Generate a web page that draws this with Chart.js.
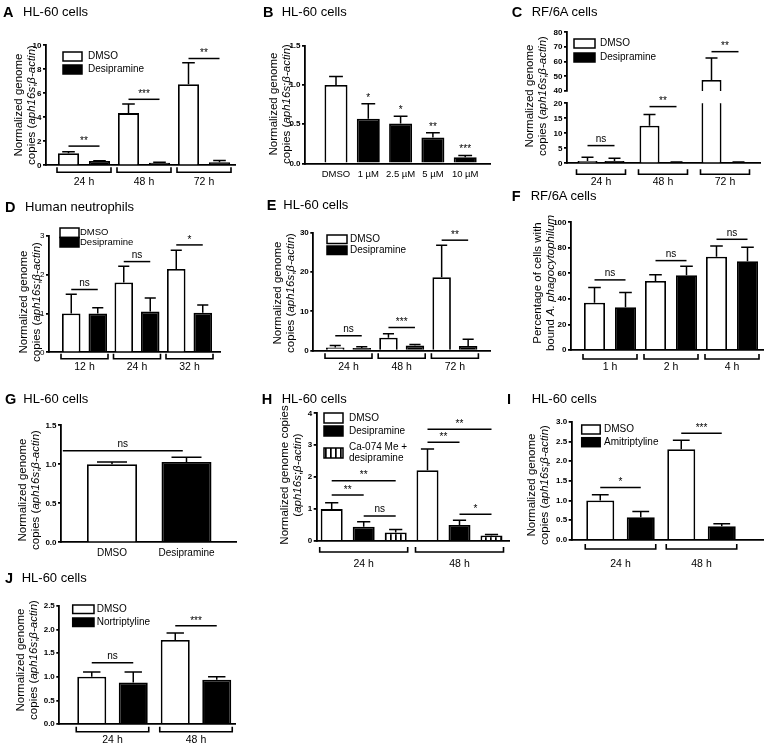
<!DOCTYPE html>
<html><head><meta charset="utf-8">
<script src="https://cdn.jsdelivr.net/npm/chart.js@4.4.1/dist/chart.umd.min.js"></script>
<style>
html,body{margin:0;padding:0;background:#fff;}
#page{position:relative;width:767px;height:747px;overflow:hidden;font-family:"Liberation Sans",Arial,Helvetica,sans-serif;color:#000;}
canvas.layer{position:absolute;left:0;top:0;}
.pl{position:absolute;font-size:14.5px;font-weight:bold;line-height:16px;white-space:nowrap;}
.pt{position:absolute;font-size:13px;line-height:16px;white-space:nowrap;}
.yt{position:absolute;white-space:nowrap;text-align:center;font-size:11.5px;line-height:12.5px;transform:translate(-50%,-50%) rotate(-90deg);}
</style></head><body><div id="page"></div>
<script>
// ================= DATA =================
// A
const catsA = ['24 h', '48 h', '72 h'];
const dmsoA = [1.0, 4.35, 6.75];
const dmsoAErr = [0.12, 0.75, 1.8];
const desiA = [0.35, 0.22, 0.25];
const desiAErr = [0.03, 0.03, 0.15];
const sigA = [[0, 0, 1, 1.6, '**'], [1, 0, 1, 5.5, '***'], [2, 0, 1, 8.9, '**']];
// B
const catsB = ['DMSO', '1 µM', '2.5 µM', '5 µM', '10 µM'];
const valsB = [1.0, 0.57, 0.51, 0.33, 0.08];
const errsB = [0.11, 0.19, 0.09, 0.06, 0.02];
const starsB = ['', '*', '*', '**', '***'];
// C
const catsC = ['24 h', '48 h', '72 h'];
const dmsoC = [0.8, 12.5, 47.5];
const dmsoCErr = [1.2, 3.8, 15];
const desiC = [0.8, 0.3, 0.3];
const desiCErr = [0.9, 0.1, 0.1];
const sigCLow = [[0, 0, 1, 5.9, 'ns'], [1, 0, 1, 18.9, '**']];
const sigCHigh = [[2, 0, 1, 66.8, '**']];
// D
const catsD = ['12 h', '24 h', '32 h'];
const dmsoD = [1.0, 1.8, 2.15];
const dmsoDErr = [0.5, 0.42, 0.48];
const desiD = [1.0, 1.05, 1.02];
const desiDErr = [0.15, 0.35, 0.2];
const sigD = [[0, 0, 1, 1.62, 'ns'], [1, 0, 1, 2.34, 'ns'], [2, 0, 1, 2.77, '*']];
// E
const catsE = ['24 h', '48 h', '72 h'];
const dmsoE = [0.8, 3.3, 18.7];
const dmsoEErr = [0.5, 1.0, 8.1];
const desiE = [0.7, 1.3, 1.2];
const desiEErr = [0.3, 0.3, 1.7];
const sigE = [[0, 0, 1, 3.8, 'ns'], [1, 0, 1, 5.9, '***'], [2, 0, 1, 28.1, '**']];
// F
const catsF = ['1 h', '2 h', '4 h'];
const dmsoF = [37, 54, 73];
const dmsoFErr = [12, 5, 8.5];
const desiF = [33.5, 58.5, 69.5];
const desiFErr = [11.5, 7, 11];
const sigF = [[0, 0, 1, 54.9, 'ns'], [1, 0, 1, 70, 'ns'], [2, 0, 1, 86.7, 'ns']];
// G
const catsG = ['DMSO', 'Desipramine'];
const valsG = [1.0, 1.03];
const errsG = [0.03, 0.06];
const sigGFree = [[-0.66, 0.95, 1.175, 'ns']];
// H
const catsH = ['24 h', '48 h'];
const dmsoH = [1.0, 2.22];
const dmsoHErr = [0.2, 0.66];
const desiH = [0.45, 0.5];
const desiHErr = [0.15, 0.15];
const caH = [0.27, 0.17];
const caHErr = [0.09, 0.03];
const sigH = [[0, 0, 2, 1.89, '**'], [0, 0, 1, 1.44, '**'], [0, 1, 2, 0.78, 'ns'],
              [1, 0, 2, 3.5, '**'], [1, 0, 1, 3.09, '**'], [1, 1, 2, 0.84, '*']];
// I
const catsI = ['24 h', '48 h'];
const dmsoI = [1.0, 2.3];
const dmsoIErr = [0.15, 0.23];
const amiI = [0.58, 0.35];
const amiIErr = [0.14, 0.06];
const sigI = [[0, 0, 1, 1.33, '*'], [1, 0, 1, 2.71, '***']];
// J
const catsJ = ['24 h', '48 h'];
const dmsoJ = [1.0, 1.78];
const dmsoJErr = [0.1, 0.15];
const norJ = [0.88, 0.94];
const norJErr = [0.22, 0.06];
const sigJ = [[0, 0, 1, 1.30, 'ns'], [1, 0, 1, 2.08, '***']];

// ================= RENDERING =================
const FONT = '"Liberation Sans", Arial, Helvetica, sans-serif';
const page = document.getElementById('page');
const W = 767, H = 747, YW = 30, LW = 1.8;

function stripePattern() {
  const c = document.createElement('canvas'); c.width = 5; c.height = 4;
  const x = c.getContext('2d');
  x.fillStyle = '#fff'; x.fillRect(0, 0, 5, 4);
  x.fillStyle = '#000'; x.fillRect(0, 0, 1.7, 4);
  return x.createPattern(c, 'repeat');
}
const STRIPE = stripePattern();
const WHITE = '#ffffff', BLACK = '#000000';

function panelPlugin(p, xOf) {
  return {
    id: 'panel',
    afterDatasetsDraw(chart) {
      const ctx = chart.ctx, xs = chart.scales.x, ys = chart.scales.y, ca = chart.chartArea;
      const L = p.lay;
      ctx.save();
      ctx.strokeStyle = '#000'; ctx.fillStyle = '#000'; ctx.lineWidth = 1.5;
      // error bars (clipped to the plot area)
      ctx.save();
      ctx.beginPath(); ctx.rect(ca.left, ca.top - 0.5, ca.right - ca.left, ca.bottom - ca.top + 1); ctx.clip();
      p.series.forEach((se, s) => {
        se.vals.forEach((v, g) => {
          const x = xs.getPixelForValue(xOf(g, s));
          const yb = ys.getPixelForValue(v), yt = ys.getPixelForValue(v + se.errs[g]);
          const cw = L.bw * 0.6 / 2;
          ctx.beginPath();
          ctx.moveTo(x, yb); ctx.lineTo(x, yt);
          ctx.moveTo(x - cw, yt); ctx.lineTo(x + cw, yt);
          ctx.stroke();
        });
      });
      ctx.restore();
      ctx.textAlign = 'center'; ctx.textBaseline = 'bottom';
      // stars above bars
      if (p.stars) {
        const se = p.series[0];
        p.stars.forEach((t, g) => {
          if (!t) return;
          const x = xs.getPixelForValue(xOf(g, 0));
          const yt = ys.getPixelForValue(se.vals[g] + se.errs[g]);
          ctx.font = '10px ' + FONT;
          ctx.fillText(t, x, yt - 1);
        });
      }
      // significance lines
      const drawSig = (x1, x2, yv, t) => {
        const y = ys.getPixelForValue(yv);
        ctx.beginPath(); ctx.moveTo(x1, y); ctx.lineTo(x2, y); ctx.stroke();
        ctx.font = '10px ' + FONT;
        ctx.fillText(t, (x1 + x2) / 2, y - (t === 'ns' ? 1.5 : 0));
      };
      (p.sig || []).forEach(([g, a, b, yv, t]) => {
        drawSig(xs.getPixelForValue(xOf(g, a)), xs.getPixelForValue(xOf(g, b)), yv, t);
      });
      (p.sigFree || []).forEach(([u1, u2, yv, t]) => {
        drawSig(xs.getPixelForValue(u1), xs.getPixelForValue(u2), yv, t);
      });
      // group brackets under the x axis
      if (p.bracket) {
        const S = p.series.length;
        ctx.lineWidth = 1.6;
        p.cats.forEach((c, g) => {
          const x1 = xs.getPixelForValue(xOf(g, 0)) - L.bw / 2 - 1;
          const x2 = xs.getPixelForValue(xOf(g, S - 1)) + L.bw / 2 + 1;
          const y = ca.bottom + p.bracket;
          ctx.beginPath();
          ctx.moveTo(x1, y - 5); ctx.lineTo(x1, y); ctx.lineTo(x2, y); ctx.lineTo(x2, y - 5);
          ctx.stroke();
        });
      }
      // legend
      if (p.legend) {
        const lg = p.legend;
        ctx.textAlign = 'left'; ctx.textBaseline = 'middle';
        ctx.font = (lg.fs || 10) + 'px ' + FONT;
        p.series.forEach((se, s) => {
          const y0 = lg.rows[s];
          ctx.fillStyle = se.fill;
          ctx.fillRect(lg.x, y0, lg.w, lg.h);
          ctx.lineWidth = 1.5; ctx.strokeStyle = '#000';
          ctx.strokeRect(lg.x, y0, lg.w, lg.h);
          ctx.fillStyle = '#000';
          const lines = se.name.split('\n');
          const cy = y0 + lg.h / 2, lh = 11;
          lines.forEach((ln, k) => {
            ctx.fillText(ln, lg.tx, cy + (k - (lines.length - 1) / 2) * lh);
          });
        });
      }
      ctx.restore();
    }
  };
}

function makeChart(p) {
  const cv = document.createElement('canvas');
  cv.width = W; cv.height = H; cv.className = 'layer';
  page.appendChild(cv);
  const L = p.lay;
  const S = p.series.length;
  const xMin = -(L.c0 - L.l) / L.sp, xMax = (L.r - L.c0) / L.sp;
  const xOf = (g, s) => g + (S > 1 ? (s - (S - 1) / 2) * L.d / L.sp : 0);
  const showX = p.showX !== false;
  const labelSize = p.labelSize || 10.5;
  const labelOff = p.labelOff || 16;
  const XH = showX ? Math.min(labelOff + 9, H - L.b) : 0;
  const datasets = p.series.map((se, s) => ({
    label: se.name.replace('\n', ' '),
    data: se.vals.map((v, g) => ({ x: xOf(g, s), y: v })),
    backgroundColor: se.fill,
    borderColor: '#000', borderWidth: LW, borderSkipped: 'start',
    barThickness: L.bw, grouped: false, clip: 0, inflateAmount: 0
  }));
  return new Chart(cv, {
    type: 'bar',
    data: { datasets },
    options: {
      responsive: false, animation: false, events: [],
      layout: { padding: { left: L.l - YW, right: W - L.r, top: L.t, bottom: H - L.b - XH } },
      plugins: { legend: { display: false }, tooltip: { enabled: false }, title: { display: false } },
      scales: {
        x: {
          type: 'linear', display: showX, min: xMin, max: xMax, offset: false,
          grid: { display: false, drawTicks: false },
          border: { display: true, color: '#000', width: LW },
          afterBuildTicks: sc => { sc.ticks = p.cats.map((c, i) => ({ value: i })); },
          afterFit: sc => { sc.height = XH; },
          ticks: {
            autoSkip: false, maxRotation: 0, minRotation: 0,
            padding: labelOff - 0.6 * labelSize, color: '#000',
            font: { family: FONT, size: labelSize },
            callback: v => p.cats[Math.round(v)]
          }
        },
        y: {
          type: 'linear', min: p.yMin, max: p.yMax,
          grid: { drawOnChartArea: false, drawTicks: true, tickLength: 3, color: '#000', lineWidth: LW },
          border: { display: true, color: '#000', width: LW },
          afterFit: sc => { sc.width = YW; },
          ticks: {
            stepSize: p.yStep, padding: 1.5, color: '#000',
            font: { family: FONT, size: 8, weight: p.tickWeight || 'bold' },
            callback: v => Number(v).toFixed(p.dec || 0)
          }
        }
      }
    },
    plugins: [panelPlugin(p, xOf)]
  });
}

const S2 = (a, ae, b, be, nb) => [
  { name: 'DMSO', vals: a, errs: ae, fill: WHITE },
  { name: nb, vals: b, errs: be, fill: BLACK }
];

// A
makeChart({ lay: { l: 46, r: 235, t: 45.3, b: 165.3, c0: 84, sp: 60, d: 31, bw: 21 },
  cats: catsA, series: S2(dmsoA, dmsoAErr, desiA, desiAErr, 'Desipramine'),
  yMin: 0, yMax: 10, yStep: 2, dec: 0, sig: sigA, bracket: 7, labelOff: 16.5,
  legend: { x: 63, w: 19, h: 9, rows: [52, 65], tx: 88 } });
// B
makeChart({ lay: { l: 305, r: 490, t: 45.8, b: 163.4, c0: 336, sp: 32.3, d: 0, bw: 23 },
  cats: catsB, series: [{ name: 'B', vals: valsB, errs: errsB, fill: [WHITE, BLACK, BLACK, BLACK, BLACK] }],
  yMin: 0, yMax: 1.5, yStep: 0.5, dec: 1, stars: starsB, labelOff: 10.7, labelSize: 9.5 });
// C (broken axis: upper and lower segments)
const seriesC = S2(dmsoC, dmsoCErr, desiC, desiCErr, 'Desipramine');
makeChart({ lay: { l: 567, r: 760, t: 32.3, b: 91, c0: 601, sp: 62, d: 27, bw: 20 },
  cats: catsC, series: seriesC, showX: false,
  yMin: 40, yMax: 80, yStep: 10, dec: 0, sig: sigCHigh,
  legend: { x: 574, w: 21, h: 9, rows: [39, 53], tx: 600 } });
makeChart({ lay: { l: 567, r: 760, t: 103.3, b: 163.3, c0: 601, sp: 62, d: 27, bw: 20 },
  cats: catsC, series: seriesC,
  yMin: 0, yMax: 20, yStep: 5, dec: 0, sig: sigCLow, bracket: 11, labelOff: 18.7 });
// D
makeChart({ lay: { l: 49, r: 220, t: 236, b: 352.3, c0: 84.5, sp: 52.5, d: 26.5, bw: 18.5 },
  cats: catsD, series: S2(dmsoD, dmsoDErr, desiD, desiDErr, 'Desipramine'),
  yMin: 0, yMax: 3, yStep: 1, dec: 0, sig: sigD, bracket: 6.5, labelOff: 14.4, tickWeight: 'normal',
  legend: { x: 60, w: 19, h: 9.5, rows: [228, 237.5], tx: 80, fs: 9.5 } });
// E
makeChart({ lay: { l: 313.3, r: 490, t: 232.7, b: 350.7, c0: 348.5, sp: 53.2, d: 26.5, bw: 18.5 },
  cats: catsE, series: S2(dmsoE, dmsoEErr, desiE, desiEErr, 'Desipramine'),
  yMin: 0, yMax: 30, yStep: 10, dec: 0, sig: sigE, bracket: 7.5, labelOff: 16,
  legend: { x: 327, w: 20, h: 8.5, rows: [235, 246], tx: 350 } });
// F
makeChart({ lay: { l: 571, r: 763, t: 222.3, b: 350, c0: 610, sp: 61, d: 31, bw: 21 },
  cats: catsF, series: S2(dmsoF, dmsoFErr, desiF, desiFErr, 'Desipramine'),
  yMin: 0, yMax: 100, yStep: 20, dec: 0, sig: sigF, bracket: 9, labelOff: 17 });
// G
makeChart({ lay: { l: 61, r: 236.7, t: 425.3, b: 542.3, c0: 112, sp: 74.5, d: 0, bw: 50 },
  cats: catsG, series: [{ name: 'G', vals: valsG, errs: errsG, fill: [WHITE, BLACK] }],
  yMin: 0, yMax: 1.5, yStep: 0.5, dec: 1, sigFree: sigGFree, labelOff: 11, labelSize: 10 });
// H
makeChart({ lay: { l: 316.7, r: 510, t: 413.3, b: 541, c0: 363.7, sp: 95.8, d: 32, bw: 22 },
  cats: catsH, series: [
    { name: 'DMSO', vals: dmsoH, errs: dmsoHErr, fill: WHITE },
    { name: 'Desipramine', vals: desiH, errs: desiHErr, fill: BLACK },
    { name: 'Ca-074 Me +\ndesipramine', vals: caH, errs: caHErr, fill: STRIPE }],
  yMin: 0, yMax: 4, yStep: 1, dec: 0, sig: sigH, bracket: 11, labelOff: 23,
  legend: { x: 324, w: 19, h: 10, rows: [413, 426, 448], tx: 349 } });
// I
makeChart({ lay: { l: 571.7, r: 763, t: 421.7, b: 540, c0: 620.5, sp: 81, d: 40.5, bw: 28 },
  cats: catsI, series: S2(dmsoI, dmsoIErr, amiI, amiIErr, 'Amitriptyline'),
  yMin: 0, yMax: 3, yStep: 0.5, dec: 1, sig: sigI, bracket: 9, labelOff: 24,
  legend: { x: 581.7, w: 18.5, h: 9, rows: [425, 437.7], tx: 604 } });
// J
makeChart({ lay: { l: 59.3, r: 235, t: 606, b: 724, c0: 112.5, sp: 83.5, d: 41.5, bw: 29 },
  cats: catsJ, series: S2(dmsoJ, dmsoJErr, norJ, norJErr, 'Nortriptyline'),
  yMin: 0, yMax: 2.5, yStep: 0.5, dec: 1, sig: sigJ, bracket: 7.7, labelOff: 16,
  legend: { x: 72.7, w: 21.3, h: 8.5, rows: [605, 618], tx: 96.7 } });

// ================= TEXT (titles, axis titles) =================
const titles = [
  ['A', 3, 'HL-60 cells', 23, 12], ['B', 263, 'HL-60 cells', 281.7, 12], ['C', 511.7, 'RF/6A cells', 531.7, 12],
  ['D', 5, 'Human neutrophils', 25, 207], ['E', 266.7, 'HL-60 cells', 283.3, 205], ['F', 511.7, 'RF/6A cells', 530.7, 196],
  ['G', 5, 'HL-60 cells', 23.3, 399], ['H', 261.7, 'HL-60 cells', 281.7, 399], ['I', 507, 'HL-60 cells', 531.7, 399],
  ['J', 5, 'HL-60 cells', 21.7, 578]
];
titles.forEach(([l, lx, t, tx, cy]) => {
  const a = document.createElement('div'); a.className = 'pl'; a.textContent = l;
  a.style.left = lx + 'px'; a.style.top = (cy - 8) + 'px'; page.appendChild(a);
  const b = document.createElement('div'); b.className = 'pt'; b.textContent = t;
  b.style.left = tx + 'px'; b.style.top = (cy - 8) + 'px'; page.appendChild(b);
});
const yStd = 'Normalized genome<br>copies (<i>aph16s</i>;<i>β-actin</i>)';
const yTitles = [
  [yStd, 24, 104.5], [yStd, 279, 104], [yStd, 535, 96], [yStd, 29, 301.7], [yStd, 283.3, 293],
  ['Percentage of cells with<br>bound <i>A. phagocytophilum</i>', 543, 283],
  [yStd, 28.3, 490], ['Normalized genome copies<br>(<i>aph16s</i>;<i>β-actin</i>)', 290, 475],
  [yStd, 536.7, 485], [yStd, 26, 660]
];
yTitles.forEach(([h, cx, cy]) => {
  const d = document.createElement('div'); d.className = 'yt'; d.innerHTML = h;
  d.style.left = cx + 'px'; d.style.top = cy + 'px'; page.appendChild(d);
});
</script></body></html>
